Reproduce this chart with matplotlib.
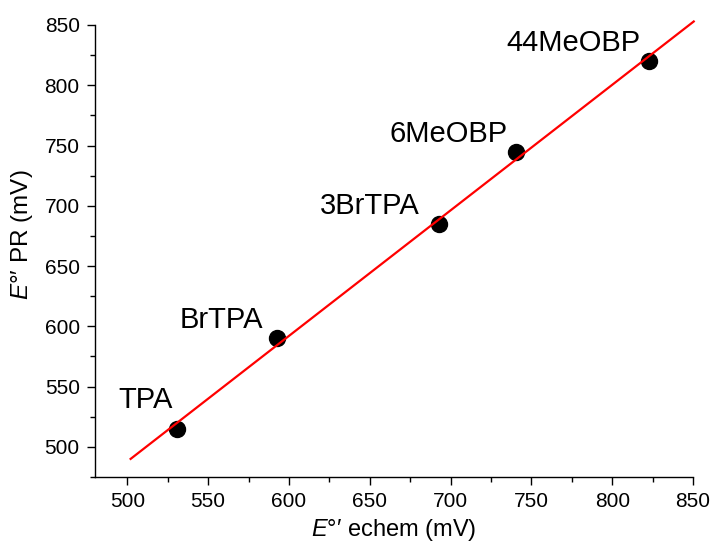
import numpy as np
import matplotlib
matplotlib.use("Agg")
import matplotlib.pyplot as plt
from matplotlib.ticker import MultipleLocator

plt.rcParams["font.family"] = ["Liberation Sans", "DejaVu Sans"]
plt.rcParams["mathtext.fontset"] = "custom"
plt.rcParams["mathtext.rm"] = "Liberation Sans"
plt.rcParams["mathtext.it"] = "Liberation Sans:italic"

# Formal potentials: electrochemical vs. pulse radiolysis (mV)
compounds = ["TPA", "BrTPA", "3BrTPA", "6MeOBP", "44MeOBP"]
e_echem = [530.5, 592.5, 693.0, 740.5, 822.5]
e_pr = [515.0, 590.0, 685.0, 745.0, 820.0]

# label offsets from each point, in pixels
label_offsets = [(-58, 21), (-97, 10), (-119, 10), (-127, 10), (-142, 10)]

fig = plt.figure(figsize=(7.13, 5.45), dpi=100)
ax = fig.add_axes([95 / 713, 1 - 477 / 545, 598 / 713, 452 / 545])

# least-squares line through the points
slope, intercept = np.polyfit(e_echem, e_pr, 1)
fit_x = np.array([501.5, 851.0])
ax.plot(fit_x, slope * fit_x + intercept, color="#ff0000", lw=1.6,
        solid_capstyle="butt", zorder=3, clip_on=False)

ax.plot(e_echem, e_pr, "o", color="black", ms=11.5, zorder=2)

for name, x, y, off in zip(compounds, e_echem, e_pr, label_offsets):
    ax.annotate(name, (x, y), xytext=off, textcoords="offset pixels",
                ha="left", va="baseline", fontsize=21, color="black")

ax.set_xlim(480, 850)
ax.set_ylim(475, 850)
ax.xaxis.set_major_locator(MultipleLocator(50))
ax.xaxis.set_minor_locator(MultipleLocator(25))
ax.yaxis.set_major_locator(MultipleLocator(50))
ax.yaxis.set_minor_locator(MultipleLocator(25))

for side in ("top", "right"):
    ax.spines[side].set_visible(False)
for side in ("left", "bottom"):
    ax.spines[side].set_linewidth(1.0)

ax.tick_params(which="major", direction="out", length=6, width=1.0,
               labelsize=15, pad=5, colors="black", labelcolor="black")
ax.tick_params(which="minor", direction="out", length=3.5, width=1.0)

ax.set_xlabel(r"$E$°′ echem (mV)", fontsize=17, labelpad=4, color="black")
ax.set_ylabel(r"$E$°′ PR (mV)", fontsize=17.5, color="black")
ax.yaxis.set_label_coords(-0.1, 0.535)

fig.savefig("out.png", dpi=100)
